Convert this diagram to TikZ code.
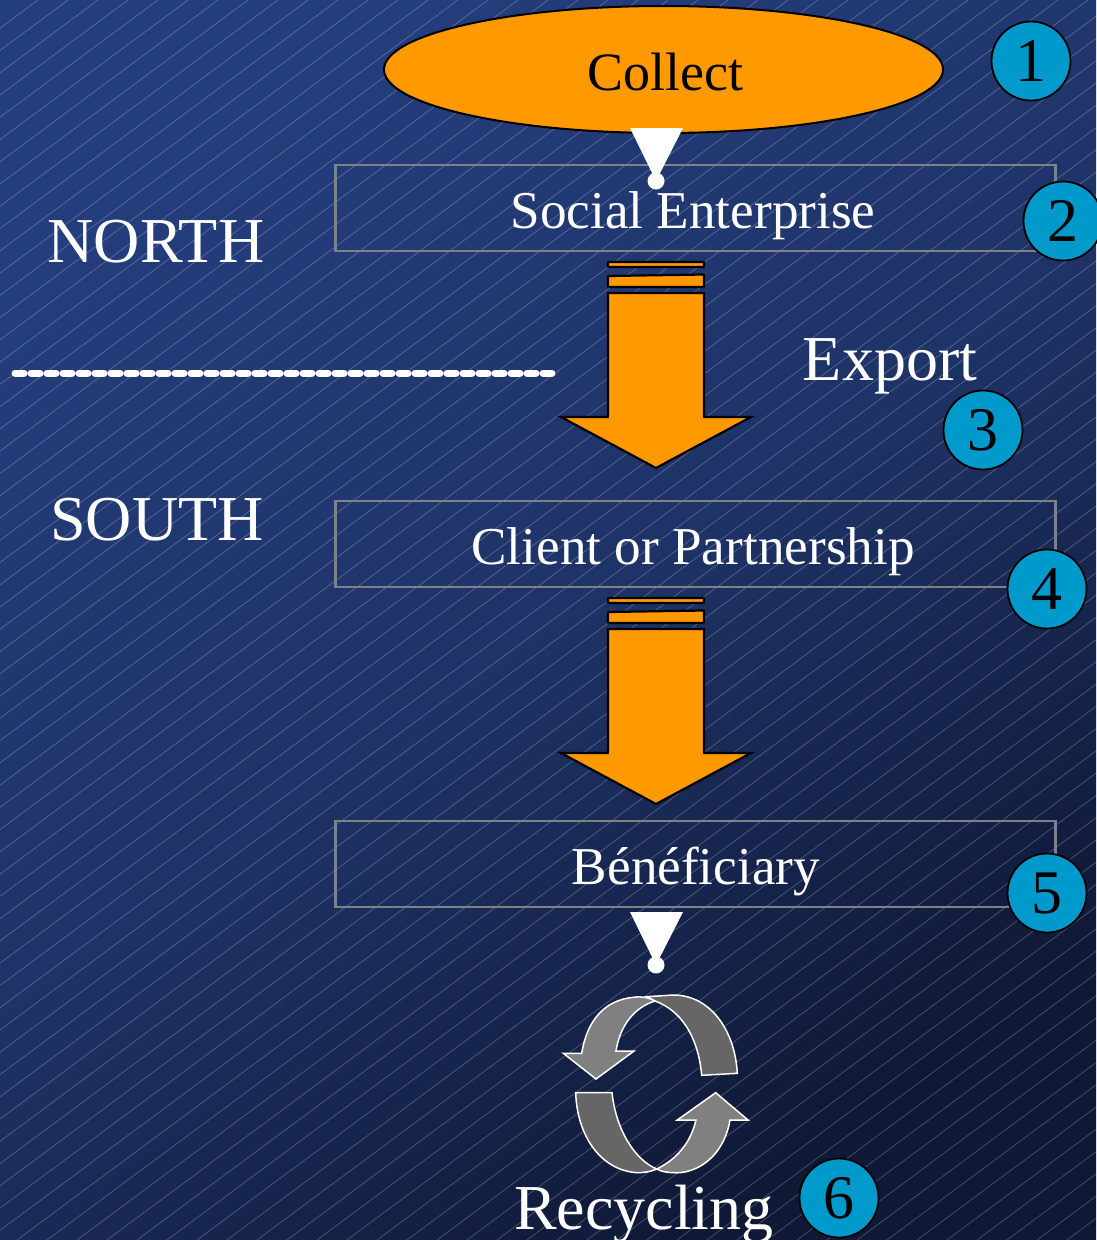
\documentclass[tikz,border=0pt]{standalone}
\usepackage{fontspec}
\setmainfont{Liberation Serif}
\usepackage{tikz}
\usetikzlibrary{shapes.geometric}
\definecolor{bgtop}{HTML}{243D7C}
\definecolor{bgmid}{HTML}{1E3367}
\definecolor{bgend}{HTML}{0F1835}
\definecolor{orangefill}{HTML}{FF9900}
\definecolor{bluefill}{HTML}{0099CC}
\definecolor{boxline}{HTML}{808088}
\tikzset{
    boxnode/.style={draw=boxline,line width=2.2pt,minimum width=720pt,minimum height=85.5pt,inner sep=0pt},
    boxlabel/.style={text=white,inner sep=0pt,font=\fontsize{53.2}{60}\selectfont},
    numnode/.style={circle,draw=black,line width=1.8pt,fill=bluefill,minimum size=79pt,inner sep=0pt,text depth=-2.5pt,font=\fontsize{62}{60}\selectfont},
    sidenode/.style={text=white,inner sep=0pt,font=\fontsize{64}{70}\selectfont},
    blockarrow/.pic={
        \draw[fill=orangefill,draw=black,line width=2.2pt,rounded corners=0.6pt] (-48,0) rectangle (48,5);
        \draw[fill=orangefill,draw=black,line width=2.2pt,rounded corners=0.6pt] (-48,14) -- (48,12.5) -- (48,25) -- (-48,25) -- cycle;
        \draw[fill=orangefill,draw=black,line width=2.2pt,line join=miter] (-48,31) -- (48,31) -- (48,155) -- (95,155) -- (0,206) -- (-95,155) -- (-48,155) -- cycle;
    },
    pinshape/.pic={
        \fill[white] (-26,0) -- (27,0) -- (0,53) -- cycle;
        \fill[white] (0,53) circle (8.5);
    },
}
\begin{document}
\begin{tikzpicture}[x=1pt,y=-1pt]
    \useasboundingbox (0,0) rectangle (1096,1240);
    \shade[top color=bgtop,bottom color=bgend,middle color=bgmid,shading angle=35] (0,0) rectangle (1096,1240);
    \begin{scope}
        \clip (0,0) rectangle (1096,1240);
        \foreach \i in {0,...,92}
            \draw[white,opacity=0.25,line width=0.7pt] ({38+30*\i},0) -- ({38+30*\i-1671},1240);
    \end{scope}

    \node[ellipse,draw=black,line width=2pt,fill=orangefill,minimum width=559pt,minimum height=127pt,inner sep=0pt] (collect) at (663.5,69.5) {};
    \node[boxnode] (social) at (695.5,208) {};
    \node[boxnode] (client) at (695.5,544) {};
    \node[boxnode] (benef) at (695.5,864) {};
    \node[inner sep=0pt,font=\fontsize{54}{60}\selectfont] (collectlabel) at (665,72) {Collect};
    \node[boxlabel] (sociallabel) at (693,216) {Social Enterprise};
    \node[boxlabel] (clientlabel) at (693,552) {Client or Partnership};
    \node[boxlabel] (beneflabel) at (696,871) {Bénéficiary};

    \node[sidenode] (north) at (156,242) {NORTH};
    \node[sidenode] (south) at (157,520) {SOUTH};
    \node[sidenode] (export) at (890,366) {Export};
    \node[sidenode] (recycling) at (644,1214) {Recycling};

    \node[numnode] (1) at (1031,61) {1};
    \node[numnode] (2) at (1063,221) {2};
    \node[numnode] (3) at (983,430) {3};
    \node[numnode] (4) at (1047,589) {4};
    \node[numnode] (5) at (1047,893) {5};
    \node[numnode] (6) at (839,1198) {6};

    \coordinate (dashleft) at (15,373);
    \coordinate (dashright) at (552,373);
    \draw[white,line width=7pt,line cap=round,dash pattern=on 9pt off 7pt] (dashleft) -- (dashright);

    \pic at (656,128) {pinshape};
    \pic at (656,912) {pinshape};
    \pic at (656,262) {blockarrow};
    \pic at (656,598) {blockarrow};

    \draw[white,line width=1.5pt,fill=gray!80!black,line join=miter] (646.7,996.7) -- (673.3,995) .. controls (710,995) and (735,1030) .. (737.3,1073.3) -- (701.7,1075.3) .. controls (698,1035) and (680,1010) .. (655,1001) -- cycle;
    \draw[white,line width=1.5pt,fill=gray,line join=miter] (581.7,1053.3) .. controls (587,1020) and (605,1000) .. (633.3,997.3) .. controls (642,996) and (650,998) .. (655,1001) .. controls (635,1007) and (620,1025) .. (616,1051) -- (634,1051) -- (596,1079) -- (563.3,1053.3) -- cycle;
    \draw[white,line width=1.5pt,fill=gray!80!black,line join=miter] (575.7,1092.7) -- (612,1092.7) .. controls (616,1130) and (635,1160) .. (656.7,1169) .. controls (650,1172) and (643,1172.7) .. (636.7,1172.7) .. controls (600,1170) and (577,1135) .. (575.7,1092.7) -- cycle;
    \draw[white,line width=1.5pt,fill=gray,line join=miter] (656.7,1169) .. controls (675,1160) and (690,1145) .. (696,1120) -- (677.3,1120) -- (715.7,1092.7) -- (748,1120) -- (730,1120) .. controls (725,1150) and (705,1170) .. (680,1172.7) .. controls (670,1173) and (662,1172) .. (656.7,1169) -- cycle;
\end{tikzpicture}
\end{document}
